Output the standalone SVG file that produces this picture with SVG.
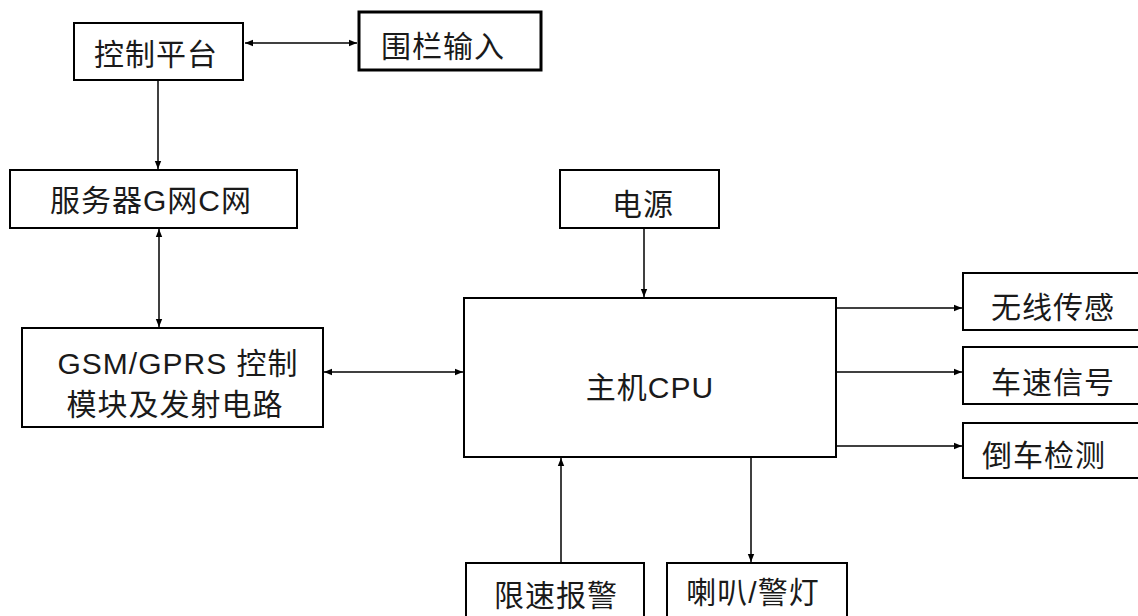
<svg xmlns="http://www.w3.org/2000/svg" width="1138" height="616" viewBox="0 0 1138 616">
<style>
.box{fill:#fff;stroke:#000;stroke-width:2}
.thick{stroke-width:3}
.t{font-family:"Liberation Sans","Noto Sans CJK SC",sans-serif;font-size:30px;fill:#1a1a1a;text-anchor:middle;letter-spacing:1px}
.c{stroke:#000;stroke-width:1.5;fill:none}
</style>
<defs>
<marker id="a" viewBox="0 0 10 10" refX="10" refY="5" markerWidth="8" markerHeight="8" orient="auto-start-reverse" markerUnits="userSpaceOnUse">
<path d="M0,1 L10,5 L0,9 z" fill="#000"/>
</marker>
</defs>
<rect width="1138" height="616" fill="#fff"/>
<g id="connectors">
<line class="c" x1="245" y1="43" x2="357" y2="43" marker-start="url(#a)" marker-end="url(#a)"/>
<line class="c" x1="158" y1="80" x2="158" y2="169" marker-end="url(#a)"/>
<line class="c" x1="159" y1="229" x2="159" y2="327" marker-start="url(#a)" marker-end="url(#a)"/>
<line class="c" x1="324" y1="372" x2="463" y2="372" marker-start="url(#a)" marker-end="url(#a)"/>
<line class="c" x1="644" y1="228" x2="644" y2="297" marker-end="url(#a)"/>
<line class="c" x1="836" y1="308" x2="962" y2="308" marker-end="url(#a)"/>
<line class="c" x1="836" y1="372" x2="962" y2="372" marker-end="url(#a)"/>
<line class="c" x1="836" y1="446" x2="962" y2="446" marker-end="url(#a)"/>
<line class="c" x1="561" y1="563" x2="561" y2="458" marker-end="url(#a)"/>
<line class="c" x1="751" y1="457" x2="751" y2="562" marker-end="url(#a)"/>
</g>
<g id="kongzhi"><rect class="box" x="74" y="23" width="169" height="57"/><text class="t" x="156" y="65">控制平台</text></g>
<g id="weilan"><rect class="box thick" x="359" y="12" width="182" height="58"/><text class="t" x="443" y="57">围栏输入</text></g>
<g id="fuwuqi"><rect class="box" x="10" y="170" width="287" height="58"/><text class="t" x="151" y="211">服务器G网C网</text></g>
<g id="gsm"><rect class="box" x="22" y="328" width="301" height="99"/><text class="t" x="178" y="374">GSM/GPRS 控制</text><text class="t" x="175" y="415">模块及发射电路</text></g>
<g id="dianyuan"><rect class="box" x="560" y="170" width="159" height="58"/><text class="t" x="643" y="215">电源</text></g>
<g id="cpu"><rect class="box" x="464" y="298" width="372" height="159"/><text class="t" x="650" y="398">主机CPU</text></g>
<g id="wuxian"><rect class="box" x="963" y="273" width="180" height="57"/><text class="t" x="1053" y="318">无线传感</text></g>
<g id="chesu"><rect class="box" x="963" y="347" width="180" height="57"/><text class="t" x="1053" y="393">车速信号</text></g>
<g id="daoche"><rect class="box" x="963" y="423" width="180" height="55"/><text class="t" x="1044" y="466">倒车检测</text></g>
<g id="xiansu"><rect class="box" x="466" y="563" width="178" height="60"/><text class="t" x="556" y="606">限速报警</text></g>
<g id="laba"><rect class="box" x="667" y="563" width="180" height="60"/><text class="t" x="753" y="603">喇叭/警灯</text></g>
</svg>
